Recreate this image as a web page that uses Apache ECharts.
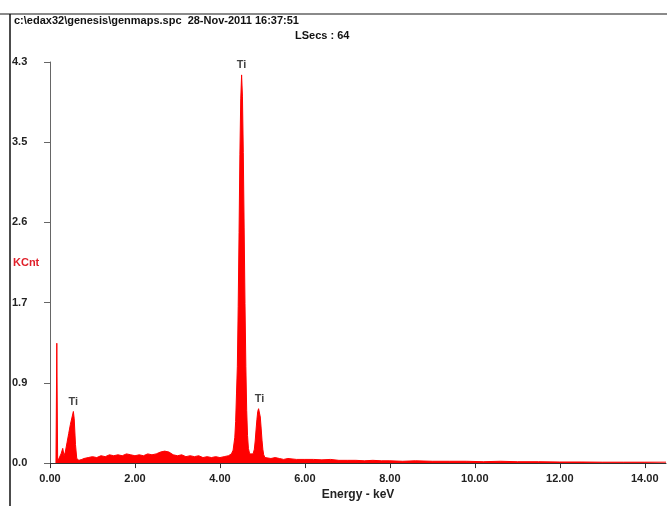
<!DOCTYPE html>
<html><head><meta charset="utf-8">
<script src="https://cdn.jsdelivr.net/npm/echarts@6/dist/echarts.min.js"></script>
<style>html,body{margin:0;padding:0;background:#fff}#c{width:667px;height:506px}</style>
</head><body><div id="c"></div>
<script>
// Energy (keV) and counts (KCnt)
const energies = [
 0.14,0.16,0.18,0.22,0.26,0.30,0.33,0.36,0.40,0.44,0.48,0.52,0.55,0.57,0.60,0.63,0.68,0.75,0.80,0.90,
 1.00,1.10,1.20,1.30,1.40,1.50,1.60,1.70,1.80,1.90,2.00,2.10,2.20,2.30,2.40,2.50,2.60,2.70,2.80,2.90,
 3.00,3.10,3.20,3.30,3.40,3.50,3.60,3.70,3.80,3.90,4.00,4.10,4.20,4.27,4.31,4.35,4.37,4.39,4.41,4.43,
 4.45,4.47,4.49,4.51,4.53,4.55,4.57,4.59,4.61,4.63,4.65,4.67,4.70,4.74,4.78,4.81,4.83,4.85,4.87,4.89,
 4.91,4.93,4.95,4.97,4.99,5.01,5.03,5.06,5.10,5.20,5.30,5.40,5.50,5.60,5.80,6.00,6.20,6.40,6.60,6.80,
 7.00,7.20,7.40,7.60,7.80,8.00,8.30,8.60,9.00,9.40,9.80,10.20,10.60,11.00,11.50,12.00,12.50,13.00,13.50,14.00,14.50
];
const counts = [
 0.00,1.30,0.02,0.04,0.10,0.16,0.08,0.12,0.22,0.32,0.42,0.50,0.56,0.48,0.20,0.05,0.03,0.04,0.05,0.06,
 0.07,0.06,0.08,0.07,0.09,0.08,0.09,0.08,0.10,0.09,0.08,0.09,0.08,0.10,0.09,0.10,0.12,0.13,0.12,0.09,
 0.08,0.09,0.07,0.08,0.07,0.08,0.06,0.07,0.06,0.07,0.06,0.07,0.08,0.10,0.14,0.28,0.45,0.75,1.05,1.70,
 2.50,3.35,3.95,4.21,3.98,3.37,2.55,1.73,1.05,0.57,0.30,0.16,0.10,0.08,0.10,0.15,0.24,0.36,0.47,0.56,
 0.59,0.57,0.50,0.38,0.25,0.15,0.09,0.06,0.05,0.05,0.06,0.05,0.04,0.05,0.04,0.04,0.04,0.035,0.04,0.03,
 0.03,0.03,0.025,0.03,0.025,0.025,0.02,0.025,0.02,0.02,0.02,0.015,0.02,0.015,0.015,0.012,0.012,0.01,0.01,0.01,0.01
];
// Peak labels
const peakNames = ['Ti','Ti','Ti'];
const peakEnergies = [0.55,4.51,4.93];
const peakHeights = [0.56,4.21,0.59];
// Tick labels
const yTickLabels = ['0.0','0.9','1.7','2.6','3.5','4.3'];
const titleLine1 = 'c:\\edax32\\genesis\\genmaps.spc  28-Nov-2011 16:37:51';
const titleLine2 = 'LSecs : 64';

const spectrum = energies.map((e,i)=>[e,counts[i]]);
const peaks = peakEnergies.map((e,i)=>({value:[e,peakHeights[i]],name:peakNames[i]}));
const FONT = '"Liberation Sans", Arial, sans-serif';

const chart = echarts.init(document.getElementById('c'));
chart.setOption({
  animation:false,
  backgroundColor:'#fff',
  grid:{left:50,right:1,top:62,bottom:32},
  xAxis:{type:'value',min:0,max:14.5,interval:2,
    name:'Energy - keV',nameLocation:'middle',nameGap:22,
    nameTextStyle:{fontFamily:FONT,fontWeight:'bold',fontSize:12,color:'#222'},
    axisLine:{lineStyle:{color:'#333',width:1}},
    axisTick:{length:5,lineStyle:{color:'#333'}},
    axisLabel:{showMaxLabel:false,fontFamily:FONT,fontWeight:'bold',fontSize:11,color:'#222',margin:10,
      formatter:v=>v.toFixed(2)},
    splitLine:{show:false}},
  yAxis:{type:'value',min:0,max:4.35,interval:0.87,
    axisLine:{show:true,lineStyle:{color:'#666',width:1}},
    axisTick:{show:true,length:6,lineStyle:{color:'#666'}},
    axisLabel:{fontFamily:FONT,fontWeight:'bold',fontSize:11,color:'#222',align:'left',margin:38,
      formatter:v=>yTickLabels[Math.round(v/0.87)]},
    splitLine:{show:false}},
  series:[
    {type:'line',data:spectrum,showSymbol:false,symbol:'none',
     lineStyle:{color:'#ff0000',width:1},areaStyle:{color:'#ff0000',opacity:1},z:2},
    {type:'scatter',data:peaks,symbolSize:0,z:3,
     label:{show:true,position:'top',distance:4,formatter:p=>p.name,
       fontFamily:FONT,fontWeight:'bold',fontSize:11,color:'#111'}}
  ],
  graphic:[
    {type:'line',shape:{x1:0,y1:14,x2:667,y2:14},style:{stroke:'#8a8a8a',lineWidth:2}},
    {type:'line',shape:{x1:10,y1:14,x2:10,y2:506},style:{stroke:'#111',lineWidth:1.5}},
    {type:'text',left:14,top:15,style:{text:titleLine1,font:'bold 11px '+FONT,fill:'#111'}},
    {type:'text',left:295,top:30,style:{text:titleLine2,font:'bold 11px '+FONT,fill:'#111'}},
    {type:'text',left:13,top:257,style:{text:'KCnt',font:'bold 11px '+FONT,fill:'#e0202a'}}
  ]
});
</script></body></html>
